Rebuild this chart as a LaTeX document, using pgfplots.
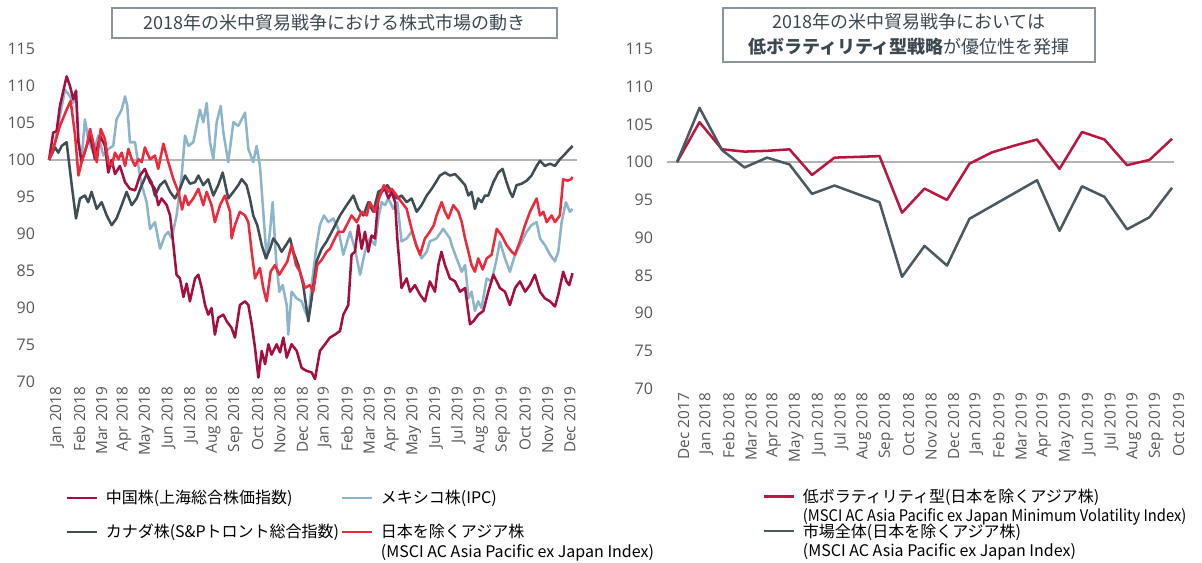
\documentclass[border=0pt]{standalone}
\usepackage{fontspec}
\setmainfont{Open Sans}
\newfontfamily\jp{Noto Sans CJK JP}
\newfontfamily\jpn[FakeStretch=0.92]{Noto Sans CJK JP}
\usepackage{pgfplots}
\pgfplotsset{compat=1.18}
\definecolor{cnred}{HTML}{A50F3F}
\definecolor{mxblue}{HTML}{8DB5C9}
\definecolor{cagray}{HTML}{3F4D55}
\definecolor{asred}{HTML}{EC2A3C}
\definecolor{mvred}{HTML}{B8173F}
\definecolor{mkgray}{HTML}{4B5961}
\definecolor{basegray}{HTML}{B4B4B4}
\definecolor{tickgray}{HTML}{575757}
\definecolor{titlegray}{HTML}{3C4850}
\definecolor{boxgray}{HTML}{8A959B}

\pgfplotsset{
  panel/.style={
    scale only axis, anchor=south west, clip=false,
    axis line style={draw=none}, major tick style={draw=none},
    ymin=70, ymax=115, ytick={70,75,...,115},
    yticklabels={70,75,90,85,90,95,100,105,110,115},
    x tick label style={rotate=90, anchor=east, font=\fontsize{11.5}{12}\selectfont, text=tickgray},
    y tick label style={font=\fontsize{12}{14}\selectfont, text=tickgray},
    legend image code/.code={\draw[##1] (0pt,4.5pt) -- (22.5pt,4.5pt);},
    legend style={draw=none, fill=none, inner sep=0pt, anchor=north west,
      cells={anchor=base west}, nodes={inner sep=0pt},
      /tikz/every odd column/.style={column sep=6pt},
      /tikz/every even column/.style={column sep=0pt}},
  },
  ln/.style={line width=1.9pt, line join=round},
}

\begin{document}
\begin{tikzpicture}
\path[use as bounding box] (0,0) rectangle (901.5pt,422.25pt);

% ---- left: weekly index levels, Jan 2018 = 100
\begin{axis}[panel,
  at={(36.75pt,135.75pt)}, width=393pt, height=249.75pt,
  xmin=0, xmax=23.5, xtick={0,...,23},
  xticklabels={Jan 2018,Feb 2018,Mar 2019,Apr 2018,May 2018,Jun 2018,Jul 2018,Aug 2018,Sep 2018,Oct 2018,Nov 2018,Dec 2018,Jan 2019,Feb 2019,Mar 2019,Apr 2019,May 2019,Jun 2019,Jul 2019,Aug 2019,Sep 2019,Oct 2019,Nov 2019,Dec 2019},
  yticklabel style={xshift=-7pt}, xticklabel style={yshift=-6pt},
  legend columns=2,
  legend style={at={(0.0305,-0.323)}, font=\jp\fontsize{12}{15}\selectfont, row sep=13.5pt},
]
\addlegendimage{cnred, ln}
\addlegendentry{\makebox[176pt][l]{\strut 中国株(上海総合株価指数)}}
\addlegendimage{mxblue, ln}
\addlegendentry{\strut メキシコ株(IPC)}
\addlegendimage{cagray, ln}
\addlegendentry{\makebox[176pt][l]{\strut カナダ株(S\&Pトロント総合指数)}}
\addlegendimage{asred, ln}
\addlegendentry{\vtop{\hbox{\strut 日本を除くアジア株}\hbox{\strut (MSCI AC Asia Pacific ex Japan Index)}}}

\addplot[basegray, line width=1.1pt, forget plot] coordinates {(0,100) (23.7,100)};
% Mexico
\addplot[mxblue, ln, forget plot] coordinates {
(0,100) (0.27,102.4) (0.49,106.0) (0.72,109.5) (0.94,108.6) (1.09,107.7) (1.21,109.5) (1.32,102.8) (1.46,100.1) (1.61,105.5) (1.76,102.8) (1.99,101.0) (2.21,103.3) (2.44,100.6) (2.66,101.5) (2.88,101.9) (3.03,105.5) (3.26,106.8) (3.41,108.6) (3.51,107.3) (3.63,102.4) (3.86,102.4) (4.01,99.2) (4.16,96.6) (4.38,94.3) (4.53,90.7) (4.75,91.6) (4.98,88.0) (5.20,89.8) (5.35,90.3) (5.50,89.4) (5.72,92.5) (5.95,97.9) (6.10,103.3) (6.25,101.9) (6.47,102.4) (6.62,104.6) (6.77,106.8) (6.92,105.1) (7.07,107.7) (7.22,102.4) (7.37,100.1) (7.52,105.1) (7.70,107.3) (7.82,103.7) (8.04,99.7) (8.27,105.1) (8.49,104.6) (8.64,105.5) (8.79,106.4) (8.94,101.5) (9.16,99.7) (9.31,101.9) (9.46,99.2) (9.61,93.0) (9.76,86.7) (9.91,90.3) (10.03,94.3) (10.18,86.7) (10.33,82.2) (10.48,83.1) (10.66,80.4) (10.73,76.4) (10.88,82.2) (11.11,81.3) (11.33,80.9) (11.48,79.6) (11.63,78.7) (11.78,83.1) (12.00,88.5) (12.15,91.2) (12.33,92.5) (12.53,91.6) (12.75,92.1) (12.97,90.7) (13.20,87.2) (13.50,90.3) (13.72,88.0) (13.95,84.5) (14.17,87.6) (14.39,89.4) (14.62,88.5) (14.77,92.1) (14.92,94.3) (15.07,93.9) (15.22,94.8) (15.44,93.4) (15.62,94.3) (15.81,89.0) (16.04,89.4) (16.26,90.3) (16.49,88.5) (16.71,86.7) (16.94,87.6) (17.08,89.0) (17.38,89.4) (17.68,90.7) (17.98,89.4) (18.06,88.5) (18.28,86.7) (18.51,84.9) (18.66,85.8) (18.81,81.3) (18.95,82.2) (19.10,79.6) (19.25,80.9) (19.40,80.0) (19.63,84.0) (19.85,83.6) (20.08,86.7) (20.22,89.0) (20.45,86.7) (20.67,84.9) (20.90,87.2) (21.12,88.5) (21.42,90.3) (21.64,91.2) (21.87,91.6) (22.02,89.4) (22.24,88.5) (22.47,87.2) (22.69,86.3) (22.84,87.6) (22.99,91.6) (23.18,94.3) (23.36,93.0) (23.48,93.4)};
% Canada
\addplot[cagray, ln, forget plot] coordinates {
(0,100) (0.27,101.7) (0.42,101.0) (0.57,101.9) (0.79,102.4) (1.02,96.6) (1.21,92.1) (1.39,94.8) (1.61,95.2) (1.76,94.3) (1.91,95.7) (2.14,93.4) (2.36,94.3) (2.59,92.5) (2.81,91.2) (3.03,92.1) (3.26,93.9) (3.48,95.7) (3.71,93.9) (3.93,94.8) (4.16,96.6) (4.38,98.1) (4.60,97.0) (4.75,95.2) (4.98,96.6) (5.20,97.2) (5.43,95.7) (5.65,94.8) (5.87,96.1) (6.10,97.9) (6.32,96.8) (6.55,97.0) (6.70,97.9) (6.92,96.6) (7.14,97.4) (7.37,95.2) (7.59,96.6) (7.79,98.3) (8.04,94.8) (8.27,95.7) (8.49,96.6) (8.64,97.4) (8.86,96.6) (9.01,94.8) (9.16,92.5) (9.34,91.2) (9.54,88.5) (9.73,86.7) (9.91,88.0) (10.06,89.4) (10.28,88.5) (10.43,87.6) (10.63,88.5) (10.81,89.4) (10.96,87.6) (11.18,85.8) (11.40,83.1) (11.63,78.2) (11.78,81.3) (12.00,86.3) (12.23,88.0) (12.45,89.0) (12.75,90.7) (13.05,92.5) (13.35,93.9) (13.65,95.2) (13.87,93.4) (14.10,92.5) (14.32,94.3) (14.54,93.0) (14.77,95.7) (14.99,96.1) (15.17,96.6) (15.37,95.7) (15.59,94.8) (15.81,95.2) (16.04,94.3) (16.26,94.8) (16.49,93.0) (16.71,93.9) (16.94,95.2) (17.16,96.1) (17.35,97.0) (17.53,97.9) (17.76,98.3) (17.98,97.9) (18.21,98.1) (18.43,97.4) (18.66,96.6) (18.81,95.2) (18.95,95.7) (19.10,93.4) (19.25,94.8) (19.40,94.3) (19.55,95.2) (19.70,95.2) (19.93,97.0) (20.15,98.3) (20.34,98.8) (20.52,97.0) (20.67,95.7) (20.79,95.0) (20.97,96.6) (21.20,96.8) (21.42,97.2) (21.64,97.9) (21.87,99.2) (22.02,99.9) (22.24,99.2) (22.47,99.5) (22.69,99.2) (22.91,100.1) (23.14,100.8) (23.29,101.3) (23.48,101.9)};
% China
\addplot[cnred, ln, forget plot] coordinates {
(0,100) (0.19,103.7) (0.34,103.9) (0.49,107.3) (0.79,111.3) (0.94,110.0) (1.09,108.2) (1.21,109.3) (1.32,102.4) (1.46,99.7) (1.69,101.9) (1.84,103.3) (2.06,100.1) (2.29,103.3) (2.51,101.9) (2.66,98.3) (2.81,100.0) (2.96,98.1) (3.18,99.2) (3.41,97.0) (3.63,96.1) (3.86,95.9) (4.08,97.9) (4.30,98.8) (4.53,97.0) (4.75,96.1) (4.90,93.9) (5.05,94.8) (5.28,93.9) (5.43,92.5) (5.58,88.5) (5.72,84.5) (5.87,84.0) (6.03,81.5) (6.17,83.3) (6.32,80.9) (6.55,84.0) (6.70,84.5) (6.85,82.7) (7.00,80.4) (7.14,79.1) (7.29,80.0) (7.44,76.4) (7.59,78.7) (7.82,79.1) (7.97,78.2) (8.19,77.3) (8.34,76.0) (8.56,80.4) (8.79,80.9) (8.94,80.4) (9.09,77.8) (9.24,74.6) (9.39,70.6) (9.54,74.2) (9.69,72.4) (9.84,75.1) (9.98,73.7) (10.21,75.1) (10.36,74.0) (10.51,76.0) (10.66,73.3) (10.88,75.1) (11.11,74.2) (11.33,71.9) (11.55,71.5) (11.78,71.3) (11.93,70.4) (12.15,74.2) (12.38,75.1) (12.60,76.0) (12.82,76.4) (13.05,76.9) (13.20,79.1) (13.42,80.4) (13.57,87.2) (13.72,87.6) (13.87,91.2) (14.02,88.0) (14.17,90.3) (14.32,87.6) (14.47,89.8) (14.62,89.4) (14.77,94.8) (14.92,95.7) (15.07,96.1) (15.22,94.8) (15.37,95.7) (15.52,94.3) (15.62,89.4) (15.81,82.7) (16.04,84.0) (16.19,82.2) (16.41,83.1) (16.64,81.8) (16.86,80.9) (17.08,83.6) (17.31,82.2) (17.46,85.8) (17.60,87.6) (17.76,85.8) (17.98,84.0) (18.21,83.6) (18.43,82.2) (18.66,82.7) (18.88,77.8) (19.03,78.2) (19.25,79.1) (19.48,79.6) (19.70,82.2) (19.93,84.5) (20.08,83.6) (20.22,82.7) (20.45,82.2) (20.67,80.4) (20.90,82.7) (21.12,83.6) (21.35,82.2) (21.57,83.1) (21.79,84.5) (22.02,82.2) (22.24,81.3) (22.47,80.9) (22.69,80.2) (22.84,81.8) (23.06,84.9) (23.21,83.6) (23.33,83.1) (23.48,84.7)};
% Asia Pacific ex Japan
\addplot[asred, ln, forget plot] coordinates {
(0,100) (0.19,101.5) (0.49,104.6) (0.79,106.8) (0.97,108.0) (1.17,103.3) (1.32,97.9) (1.46,99.7) (1.69,101.9) (1.84,104.2) (2.02,101.9) (2.14,99.7) (2.32,104.2) (2.51,102.8) (2.66,99.7) (2.81,99.2) (2.96,101.0) (3.11,100.1) (3.26,101.0) (3.41,99.2) (3.56,101.5) (3.71,100.1) (3.86,99.2) (4.01,100.1) (4.16,99.7) (4.30,101.7) (4.53,100.1) (4.75,100.6) (4.90,98.8) (5.13,102.2) (5.35,99.7) (5.58,97.4) (5.80,95.7) (5.97,93.3) (6.10,95.2) (6.25,93.9) (6.47,94.8) (6.70,96.1) (6.92,93.9) (7.07,95.7) (7.29,93.9) (7.44,91.6) (7.67,93.9) (7.89,95.2) (8.12,93.0) (8.19,89.4) (8.34,91.2) (8.56,93.0) (8.79,92.5) (8.94,91.6) (9.09,87.6) (9.24,84.0) (9.46,85.4) (9.61,82.7) (9.76,80.9) (9.94,84.9) (10.13,85.8) (10.33,84.5) (10.51,85.4) (10.69,86.3) (10.88,88.5) (11.08,85.8) (11.26,84.9) (11.48,82.7) (11.70,83.1) (11.85,82.2) (12.03,85.8) (12.23,86.5) (12.45,87.6) (12.60,88.0) (12.82,89.4) (12.97,90.3) (13.20,90.3) (13.42,91.6) (13.57,92.5) (13.80,91.6) (14.02,93.0) (14.25,92.5) (14.39,94.3) (14.62,93.0) (14.84,95.2) (15.02,96.6) (15.22,95.7) (15.37,96.1) (15.59,95.2) (15.81,94.3) (16.04,93.4) (16.26,90.7) (16.46,88.5) (16.64,87.2) (16.86,89.4) (17.08,90.3) (17.26,91.2) (17.38,92.5) (17.61,94.3) (17.76,93.0) (17.91,92.1) (18.13,93.9) (18.36,93.0) (18.51,91.6) (18.66,89.4) (18.81,87.6) (18.95,85.8) (19.10,84.9) (19.25,86.7) (19.45,85.2) (19.63,86.7) (19.85,87.2) (20.08,90.7) (20.30,89.8) (20.52,88.5) (20.75,87.6) (20.90,87.2) (21.12,89.0) (21.35,91.2) (21.57,93.0) (21.87,94.8) (22.02,92.5) (22.17,93.0) (22.32,91.6) (22.54,92.5) (22.69,91.6) (22.91,92.5) (23.06,97.4) (23.26,97.2) (23.41,97.4) (23.48,97.7)};
\end{axis}

% ---- right: monthly, Dec 2017 = 100
\begin{axis}[panel,
  at={(507.75pt,130.875pt)}, width=371.25pt, height=254.625pt,
  xmin=0, xmax=22, xtick={0,...,22},
  xticklabels={Dec 2017,Jan 2018,Feb 2018,Mar 2018,Apr 2018,May 2018,Jun 2018,Jul 2018,Aug 2018,Sep 2018,Oct 2018,Nov 2018,Dec 2018,Jan 2019,Feb 2019,Mar 2019,Apr 2019,May 2019,Jun 2019,Jul 2019,Aug 2019,Sep 2019,Oct 2019},
  yticklabel style={xshift=-14.5pt}, xticklabel style={yshift=-5pt},
  legend style={at={(0.172,-0.296)}, font=\jp\fontsize{12}{14.25}\selectfont, row sep=14.25pt},
]
\addlegendimage{mvred, ln}
\addlegendentry{\vtop{\hbox{\strut 低ボラティリティ型(日本を除くアジア株)}\hbox{\jpn\strut (MSCI AC Asia Pacific ex Japan Minimum Volatility Index)}}}
\addlegendimage{mkgray, ln}
\addlegendentry{\vtop{\hbox{\strut 市場全体(日本を除くアジア株)}\hbox{\strut (MSCI AC Asia Pacific ex Japan Index)}}}

\addplot[basegray, line width=1.1pt, forget plot] coordinates {(-0.45,100) (22.1,100)};
\addplot[mvred, ln, forget plot] coordinates {
(0,100) (1,105.3) (2,101.7) (3,101.4) (4,101.5) (5,101.7) (6,98.3) (7,100.6) (8,100.7) (9,100.8) (10,93.3) (11,96.5) (12,95.0) (13,99.8) (14,101.3) (15,102.2) (16,103.0) (17,99.1) (18,104.0) (19,103.0) (20,99.6) (21,100.3) (22,103.1)};
\addplot[mkgray, ln, forget plot] coordinates {
(0,100) (1,107.2) (2,101.6) (3,99.3) (4,100.6) (5,99.7) (6,95.8) (7,96.9) (8,95.8) (9,94.7) (10,84.8) (11,88.9) (12,86.3) (13,92.5) (14,94.2) (15,95.9) (16,97.6) (17,90.9) (18,96.8) (19,95.4) (20,91.1) (21,92.7) (22,96.6)};
\end{axis}

% ---- title boxes (coordinates in reference pixels)
\begin{scope}[x=0.75pt, y=0.75pt]
\draw[boxgray, line width=0.8pt] (112,555) rectangle (557,525);
\node[font=\jp\fontsize{13.5}{16}\selectfont, text=titlegray] at (334.5,540)
  {2018年の米中貿易戦争における株式市場の動き};
\draw[boxgray, line width=0.8pt] (723,555) rectangle (1095,501);
\node[font=\jp\fontsize{13.5}{18.75}\selectfont, text=titlegray, align=center] at (909,528.5)
  {2018年の米中貿易戦争においては\\{\bfseries 低ボラティリティ型戦略}が優位性を発揮};
\end{scope}
\end{tikzpicture}
\end{document}
